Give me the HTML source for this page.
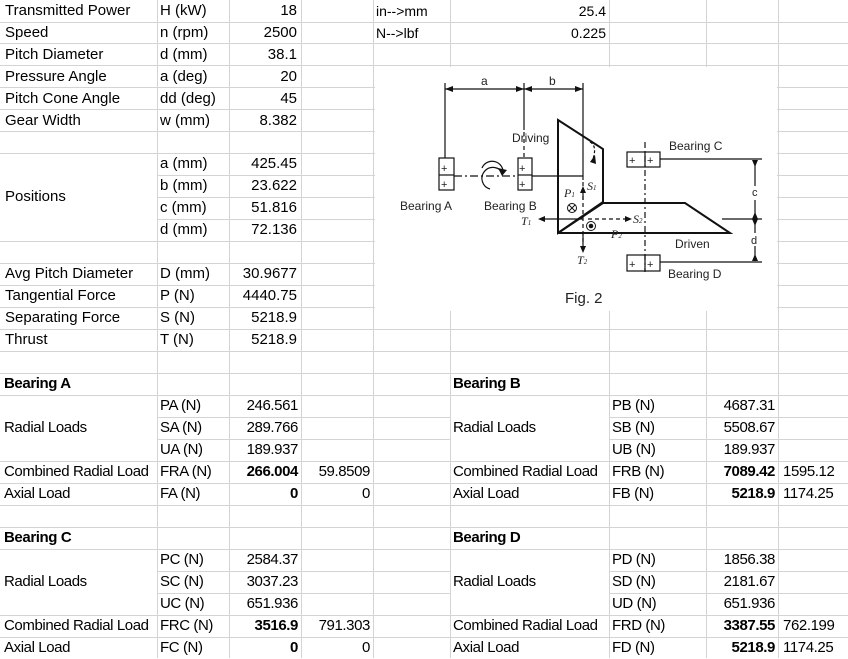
<!DOCTYPE html>
<html><head><meta charset="utf-8"><style>
html,body{margin:0;padding:0;background:#fff;}
body{width:848px;height:658px;position:relative;overflow:hidden;font-family:"Liberation Sans",Arial,sans-serif;font-size:15px;color:#000;}
.t{position:absolute;height:22px;line-height:22px;white-space:nowrap;}
.r{text-align:right;}
.b{font-weight:bold;}
.c{letter-spacing:-0.4px;}
svg{position:absolute;left:0;top:0;}
</style></head><body>
<svg width="848" height="658" viewBox="0 0 848 658">
<g stroke="#d4d4d4" stroke-width="1">
<line x1="157.5" y1="0" x2="157.5" y2="658"/><line x1="229.5" y1="0" x2="229.5" y2="658"/>
<line x1="301.5" y1="0" x2="301.5" y2="658"/><line x1="373.5" y1="0" x2="373.5" y2="658"/>
<line x1="450.5" y1="0" x2="450.5" y2="658"/><line x1="609.5" y1="0" x2="609.5" y2="658"/>
<line x1="706.5" y1="0" x2="706.5" y2="658"/><line x1="778.5" y1="0" x2="778.5" y2="658"/>
<line x1="0" y1="22.5" x2="848" y2="22.5"/><line x1="0" y1="43.5" x2="848" y2="43.5"/>
<line x1="0" y1="65.5" x2="848" y2="65.5"/><line x1="0" y1="87.5" x2="848" y2="87.5"/>
<line x1="0" y1="109.5" x2="848" y2="109.5"/><line x1="0" y1="131.5" x2="848" y2="131.5"/>
<line x1="0" y1="153.5" x2="848" y2="153.5"/><line x1="0" y1="175.5" x2="848" y2="175.5"/>
<line x1="0" y1="197.5" x2="848" y2="197.5"/><line x1="0" y1="219.5" x2="848" y2="219.5"/>
<line x1="0" y1="241.5" x2="848" y2="241.5"/><line x1="0" y1="263.5" x2="848" y2="263.5"/>
<line x1="0" y1="285.5" x2="848" y2="285.5"/><line x1="0" y1="307.5" x2="848" y2="307.5"/>
<line x1="0" y1="329.5" x2="848" y2="329.5"/><line x1="0" y1="351.5" x2="848" y2="351.5"/>
<line x1="0" y1="373.5" x2="848" y2="373.5"/><line x1="0" y1="395.5" x2="848" y2="395.5"/>
<line x1="0" y1="417.5" x2="848" y2="417.5"/><line x1="0" y1="439.5" x2="848" y2="439.5"/>
<line x1="0" y1="461.5" x2="848" y2="461.5"/><line x1="0" y1="483.5" x2="848" y2="483.5"/>
<line x1="0" y1="505.5" x2="848" y2="505.5"/><line x1="0" y1="527.5" x2="848" y2="527.5"/>
<line x1="0" y1="549.5" x2="848" y2="549.5"/><line x1="0" y1="571.5" x2="848" y2="571.5"/>
<line x1="0" y1="593.5" x2="848" y2="593.5"/><line x1="0" y1="615.5" x2="848" y2="615.5"/>
<line x1="0" y1="637.5" x2="848" y2="637.5"/>
</g>
<g fill="#fff">
<rect x="0" y="154" width="157" height="87"/>
<rect x="0" y="396" width="157" height="65"/><rect x="451" y="396" width="158" height="65"/>
<rect x="0" y="550" width="157" height="65"/><rect x="451" y="550" width="158" height="65"/>
<rect x="0" y="1" width="157" height="0"/>
<rect x="375" y="67" width="402" height="244"/>
</g>
<!-- diagram -->
<g stroke="#111" fill="none" stroke-width="1.2">
<line x1="445" y1="89" x2="583" y2="89"/>
<line x1="445" y1="83" x2="445" y2="158"/>
<line x1="524" y1="83" x2="524" y2="130"/>
<line x1="524" y1="132" x2="524" y2="158" stroke-dasharray="4,3"/>
<line x1="583" y1="83" x2="583" y2="180"/>
<line x1="583" y1="182" x2="583" y2="245" stroke-dasharray="4,3"/>
<rect x="439" y="158" width="15" height="32"/><line x1="439" y1="175" x2="454" y2="175"/>
<rect x="518" y="158" width="14" height="32"/><line x1="518" y1="175" x2="532" y2="175"/>
<line x1="454" y1="176" x2="518" y2="176" stroke-dasharray="8,3,2,3"/>
<line x1="532" y1="176" x2="583" y2="176"/>
<path d="M503 174 A11 11 0 1 0 490 189" />
<path d="M503 174 A11 11 0 0 0 482 168"/>
<polygon points="558,120 603,149 603,202 558,233" stroke-width="2"/>
<polyline points="603,203 685,203 730,233 558,233" stroke-width="2"/>
<line x1="558" y1="233" x2="603" y2="203" stroke-width="2"/>
<line x1="645" y1="142" x2="645" y2="272" stroke-dasharray="6,3,2,3"/>
<rect x="627" y="152" width="33" height="15"/><line x1="645" y1="152" x2="645" y2="167"/>
<rect x="627" y="255" width="33" height="16"/><line x1="645" y1="255" x2="645" y2="271"/>
<line x1="660" y1="159" x2="762" y2="159"/>
<line x1="660" y1="262" x2="762" y2="262"/>
<line x1="722" y1="219" x2="762" y2="219"/>
<line x1="755" y1="160" x2="755" y2="186"/><line x1="755" y1="200" x2="755" y2="233"/><line x1="755" y1="246" x2="755" y2="261"/>
<line x1="583" y1="219" x2="545" y2="219"/>
<line x1="588" y1="219" x2="625" y2="219" stroke-dasharray="4,3"/>
<line x1="583" y1="233" x2="583" y2="246"/>
<line x1="583" y1="200" x2="583" y2="190"/>
<path d="M590 142 q8 4 2 20" stroke-dasharray="3,2"/>
<circle cx="572" cy="208" r="4.5" stroke-width="1"/>
<line x1="569" y1="205" x2="575" y2="211" stroke-width="1"/><line x1="575" y1="205" x2="569" y2="211" stroke-width="1"/>
<circle cx="591" cy="226" r="4.5" stroke-width="1"/>
</g>
<g fill="#111">
<circle cx="591" cy="226" r="2.3"/>
<polygon points="445,89 453,86 453,92"/><polygon points="524,89 516,86 516,92"/>
<polygon points="524,89 532,86 532,92"/><polygon points="583,89 575,86 575,92"/>
<polygon points="545,216 545,222 538,219"/>
<polygon points="625,216 625,222 632,219"/>
<polygon points="580,246 586,246 583,253"/>
<polygon points="580,193 586,193 583,186"/>
<polygon points="752,160 758,160 755,167"/><polygon points="752,219 758,219 755,212"/>
<polygon points="752,219 758,219 755,226"/><polygon points="752,261 758,261 755,254"/>
<polygon points="590,162 595,155 596,164"/>
<polygon points="502,176 498,168 507,170"/>
</g>
<g font-family="Liberation Sans,Arial,sans-serif" font-size="12" fill="#222">
<text x="481" y="85">a</text><text x="549" y="85">b</text>
<text x="512" y="142">Driving</text>
<text x="400" y="210">Bearing A</text><text x="484" y="210">Bearing B</text>
<text x="669" y="150">Bearing C</text><text x="675" y="248">Driven</text>
<text x="668" y="278">Bearing D</text>
<text x="752" y="196" font-size="11">c</text><text x="751" y="244" font-size="11">d</text>
<text x="565" y="303" font-size="15">Fig. 2</text>
<g font-family="Liberation Serif,serif" font-style="italic" font-size="12">
<text x="564" y="197">P<tspan font-size="7">1</tspan></text>
<text x="587" y="190">S<tspan font-size="7">1</tspan></text>
<text x="521" y="225">T<tspan font-size="7">1</tspan></text>
<text x="633" y="223">S<tspan font-size="7">2</tspan></text>
<text x="611" y="238">P<tspan font-size="7">2</tspan></text>
<text x="577" y="264">T<tspan font-size="7">2</tspan></text>
</g>
<g font-size="11"><text x="441" y="172">+</text><text x="441" y="188">+</text><text x="519" y="172">+</text><text x="519" y="188">+</text>
<text x="629" y="164">+</text><text x="647" y="164">+</text><text x="629" y="268">+</text><text x="647" y="268">+</text></g>
</g>
</svg>

<div class="t" style="left:5px;top:0">Transmitted Power</div><div class="t" style="left:160px;top:0">H (kW)</div><div class="t r" style="right:551px;top:0">18</div>
<div class="t" style="left:5px;top:22px">Speed</div><div class="t" style="left:160px;top:22px">n (rpm)</div><div class="t r" style="right:551px;top:22px">2500</div>
<div class="t" style="left:5px;top:44px">Pitch Diameter</div><div class="t" style="left:160px;top:44px">d (mm)</div><div class="t r" style="right:551px;top:44px">38.1</div>
<div class="t" style="left:5px;top:66px">Pressure Angle</div><div class="t" style="left:160px;top:66px">a (deg)</div><div class="t r" style="right:551px;top:66px">20</div>
<div class="t" style="left:5px;top:88px">Pitch Cone Angle</div><div class="t" style="left:160px;top:88px">dd (deg)</div><div class="t r" style="right:551px;top:88px">45</div>
<div class="t" style="left:5px;top:110px">Gear Width</div><div class="t" style="left:160px;top:110px">w (mm)</div><div class="t r" style="right:551px;top:110px">8.382</div>
<div class="t" style="left:376px;top:0;font-size:14px">in--&gt;mm</div><div class="t r" style="right:242px;top:0;font-size:14px">25.4</div>
<div class="t" style="left:376px;top:22px;font-size:14px">N--&gt;lbf</div><div class="t r" style="right:242px;top:22px;font-size:14px">0.225</div>

<div class="t" style="left:5px;top:186px">Positions</div>
<div class="t" style="left:160px;top:153px">a (mm)</div><div class="t r" style="right:551px;top:153px">425.45</div>
<div class="t" style="left:160px;top:175px">b (mm)</div><div class="t r" style="right:551px;top:175px">23.622</div>
<div class="t" style="left:160px;top:197px">c (mm)</div><div class="t r" style="right:551px;top:197px">51.816</div>
<div class="t" style="left:160px;top:219px">d (mm)</div><div class="t r" style="right:551px;top:219px">72.136</div>

<div class="t" style="left:5px;top:263px">Avg Pitch Diameter</div><div class="t" style="left:160px;top:263px">D (mm)</div><div class="t r" style="right:551px;top:263px">30.9677</div>
<div class="t" style="left:5px;top:285px">Tangential Force</div><div class="t" style="left:160px;top:285px">P (N)</div><div class="t r" style="right:551px;top:285px">4440.75</div>
<div class="t" style="left:5px;top:307px">Separating Force</div><div class="t" style="left:160px;top:307px">S (N)</div><div class="t r" style="right:551px;top:307px">5218.9</div>
<div class="t" style="left:5px;top:329px">Thrust</div><div class="t" style="left:160px;top:329px">T (N)</div><div class="t r" style="right:551px;top:329px">5218.9</div>

<div class="t b c" style="left:4px;top:373px">Bearing A</div>
<div class="t c" style="left:4px;top:417px">Radial Loads</div>
<div class="t c" style="left:160px;top:395px">PA (N)</div><div class="t r c" style="right:550px;top:395px">246.561</div>
<div class="t c" style="left:160px;top:417px">SA (N)</div><div class="t r c" style="right:550px;top:417px">289.766</div>
<div class="t c" style="left:160px;top:439px">UA (N)</div><div class="t r c" style="right:550px;top:439px">189.937</div>
<div class="t c" style="left:4px;top:461px">Combined Radial Load</div><div class="t c" style="left:160px;top:461px">FRA (N)</div><div class="t r b c" style="right:550px;top:461px">266.004</div><div class="t r c" style="right:478px;top:461px">59.8509</div>
<div class="t c" style="left:4px;top:483px">Axial Load</div><div class="t c" style="left:160px;top:483px">FA (N)</div><div class="t r b c" style="right:550px;top:483px">0</div><div class="t r c" style="right:478px;top:483px">0</div>

<div class="t b c" style="left:453px;top:373px">Bearing B</div>
<div class="t c" style="left:453px;top:417px">Radial Loads</div>
<div class="t c" style="left:612px;top:395px">PB (N)</div><div class="t r c" style="right:73px;top:395px">4687.31</div>
<div class="t c" style="left:612px;top:417px">SB (N)</div><div class="t r c" style="right:73px;top:417px">5508.67</div>
<div class="t c" style="left:612px;top:439px">UB (N)</div><div class="t r c" style="right:73px;top:439px">189.937</div>
<div class="t c" style="left:453px;top:461px">Combined Radial Load</div><div class="t c" style="left:612px;top:461px">FRB (N)</div><div class="t r b c" style="right:73px;top:461px">7089.42</div><div class="t c" style="left:783px;top:461px">1595.12</div>
<div class="t c" style="left:453px;top:483px">Axial Load</div><div class="t c" style="left:612px;top:483px">FB (N)</div><div class="t r b c" style="right:73px;top:483px">5218.9</div><div class="t c" style="left:783px;top:483px">1174.25</div>

<div class="t b c" style="left:4px;top:527px">Bearing C</div>
<div class="t c" style="left:4px;top:571px">Radial Loads</div>
<div class="t c" style="left:160px;top:549px">PC (N)</div><div class="t r c" style="right:550px;top:549px">2584.37</div>
<div class="t c" style="left:160px;top:571px">SC (N)</div><div class="t r c" style="right:550px;top:571px">3037.23</div>
<div class="t c" style="left:160px;top:593px">UC (N)</div><div class="t r c" style="right:550px;top:593px">651.936</div>
<div class="t c" style="left:4px;top:615px">Combined Radial Load</div><div class="t c" style="left:160px;top:615px">FRC (N)</div><div class="t r b c" style="right:550px;top:615px">3516.9</div><div class="t r c" style="right:478px;top:615px">791.303</div>
<div class="t c" style="left:4px;top:637px">Axial Load</div><div class="t c" style="left:160px;top:637px">FC (N)</div><div class="t r b c" style="right:550px;top:637px">0</div><div class="t r c" style="right:478px;top:637px">0</div>

<div class="t b c" style="left:453px;top:527px">Bearing D</div>
<div class="t c" style="left:453px;top:571px">Radial Loads</div>
<div class="t c" style="left:612px;top:549px">PD (N)</div><div class="t r c" style="right:73px;top:549px">1856.38</div>
<div class="t c" style="left:612px;top:571px">SD (N)</div><div class="t r c" style="right:73px;top:571px">2181.67</div>
<div class="t c" style="left:612px;top:593px">UD (N)</div><div class="t r c" style="right:73px;top:593px">651.936</div>
<div class="t c" style="left:453px;top:615px">Combined Radial Load</div><div class="t c" style="left:612px;top:615px">FRD (N)</div><div class="t r b c" style="right:73px;top:615px">3387.55</div><div class="t c" style="left:783px;top:615px">762.199</div>
<div class="t c" style="left:453px;top:637px">Axial Load</div><div class="t c" style="left:612px;top:637px">FD (N)</div><div class="t r b c" style="right:73px;top:637px">5218.9</div><div class="t c" style="left:783px;top:637px">1174.25</div>
</body></html>
